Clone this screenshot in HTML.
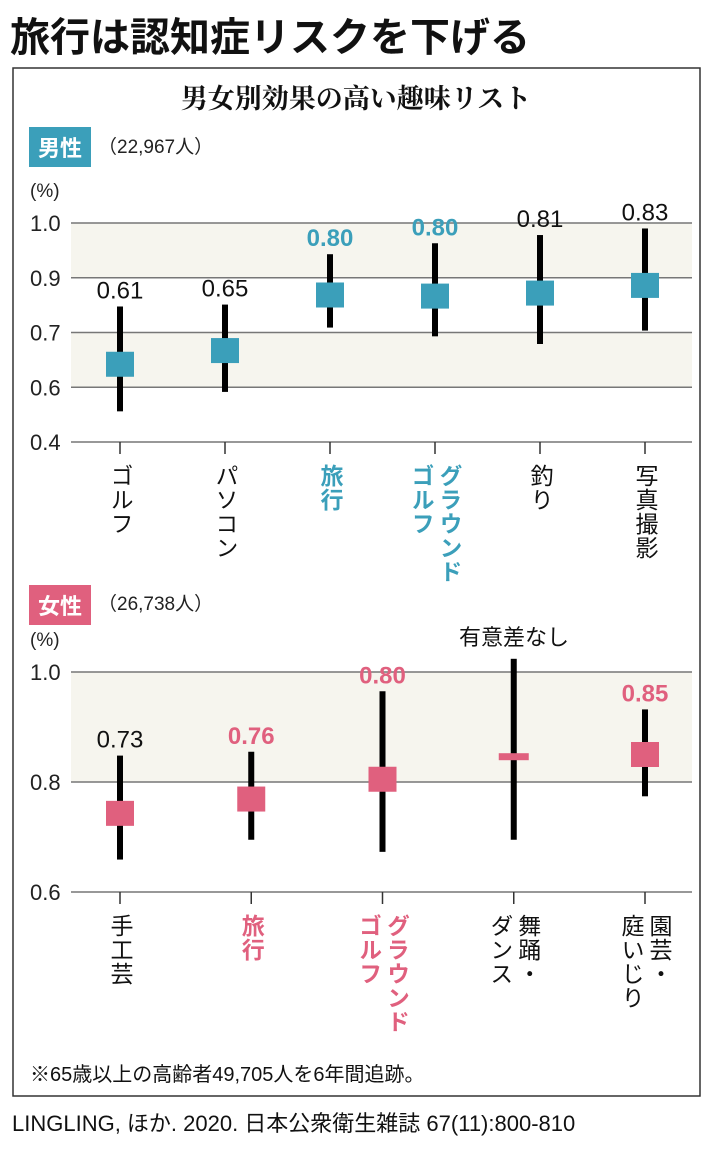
<!DOCTYPE html>
<html><head><meta charset="utf-8"><style>
body{margin:0;background:#fff;}
svg text{font-family:"Liberation Sans","Noto Sans CJK JP",sans-serif;}
</style></head><body>
<svg width="710" height="1147" viewBox="0 0 710 1147" xmlns="http://www.w3.org/2000/svg">
<text x="10" y="51" font-size="40" font-weight="bold" fill="#111">旅行は認知症リスクを下げる</text>
<rect x="13" y="68" width="687" height="1028" fill="none" stroke="#333" stroke-width="1.5"/>
<text x="356" y="108" font-size="27" font-weight="bold" text-anchor="middle" fill="#111" style="font-family:'Liberation Serif','Noto Serif CJK SC',serif">男女別効果の高い趣味リスト</text>
<rect x="29" y="127" width="62" height="40" fill="#3b9fba"/>
<text x="60" y="156" font-size="22" font-weight="bold" fill="#fff" text-anchor="middle">男性</text>
<text x="98" y="153" font-size="19" fill="#222">（22,967人）</text>
<text x="30" y="197" font-size="19" fill="#222">(%)</text>
<g id="top"></g>
<rect x="29" y="585" width="62" height="40" fill="#e0607e"/>
<text x="60" y="614" font-size="22" font-weight="bold" fill="#fff" text-anchor="middle">女性</text>
<text x="98" y="610" font-size="19" fill="#222">（26,738人）</text>
<text x="30" y="646" font-size="19" fill="#222">(%)</text>
<text x="514" y="645" font-size="22" fill="#111" text-anchor="middle">有意差なし</text>
<g id="bot"></g>
<text x="30" y="1081" font-size="20" fill="#111">※65歳以上の高齢者49,705人を6年間追跡。</text>
<text x="12" y="1131" font-size="22" fill="#111">LINGLING, ほか. 2020. 日本公衆衛生雑誌 67(11):800-810</text>
</svg>
<script>
const NS="http://www.w3.org/2000/svg";
// Male chart data
const mCats=[["ゴルフ"],["パソコン"],["旅行"],["グラウンド","ゴルフ"],["釣り"],["写真撮影"]];
const mPoint=[0.642,0.667,0.837,0.833,0.844,0.872];
const mLow=[0.512,0.583,0.718,0.693,0.679,0.707];
const mHigh=[0.795,0.802,0.943,0.963,0.978,0.99];
const mLabels=["0.61","0.65","0.80","0.80","0.81","0.83"];
const mHighlight=[false,false,true,true,false,false];
const mTicks=[1.0,0.9,0.7,0.6,0.4];
// Female chart data
const fCats=[["手工芸"],["旅行"],["グラウンド","ゴルフ"],["舞踊・","ダンス"],["園芸・","庭いじり"]];
const fPoint=[0.743,0.769,0.805,0.846,0.85];
const fLow=[0.659,0.695,0.673,0.695,0.774];
const fHigh=[0.848,0.855,0.965,1.024,0.932];
const fLabels=["0.73","0.76","0.80","","0.85"];
const fValueHighlight=[false,true,true,false,true];
const fCatHighlight=[false,true,true,false,false];
const fNoSig=[false,false,false,true,false];
const fTicks=[1.0,0.8,0.6];

function mk(tag,attrs,parent){const e=document.createElementNS(NS,tag);for(const k in attrs)e.setAttribute(k,attrs[k]);parent.appendChild(e);return e;}

const topY0=223, topY1=442;
function yTop(v){
  const n=mTicks.length, step=(topY1-topY0)/(n-1);
  for(let i=0;i<n-1;i++){const a=mTicks[i],b=mTicks[i+1];
    if(v<=a&&v>=b) return topY0+step*(i+(a-v)/(a-b));}
  if(v>mTicks[0]) return topY0-(v-mTicks[0])/(mTicks[0]-mTicks[1])*step;
  return topY1;
}
function xTop(i){return 120+i*105;}
function yBot(v){return 672+(1.0-v)/0.4*(892-672);}
function xBot(i){return 120+i*131.25;}

function draw(g,cats,pt,lo,hi,labels,hlVal,hlCat,ticks,yf,xf,color,shades,noSig,bottomY){
  shades.forEach(s=>{const r=mk('rect',{x:71,y:yf(s[0]),width:621,height:yf(s[1])-yf(s[0]),fill:'#f6f5ee'},g);
    
    });
  ticks.forEach(t=>{const l=mk('line',{x1:71,x2:692,y1:yf(t),y2:yf(t),stroke:'#777','stroke-width':1.5},g);
    
    
    const tx=mk('text',{x:30,y:yf(t)+8,'font-size':22,fill:'#222'},g);tx.textContent=t.toFixed(1);
    
    });
  cats.forEach((c,i)=>{const x=xf(i);
    const tk=mk('line',{x1:x,x2:x,y1:bottomY,y2:bottomY+12,stroke:'#333','stroke-width':1.5},g);
    
    
    const col=hlCat[i]?color:'#111';
    c.forEach((line,j)=>{
      const cols=c.length; const cx=x+(j-(cols-1)/2)*-28;
      const t=mk('text',{x:cx,y:bottomY+22,'font-size':23,fill:col,'font-weight':hlCat[i]?'bold':'normal',style:'writing-mode:vertical-rl;letter-spacing:1px'},g);
      t.textContent=line;
      
      });
    const b=mk('rect',{x:x-3,y:yf(hi[i]),width:6,height:yf(lo[i])-yf(hi[i]),fill:'#000'},g);
    
    
    const yp=yf(pt[i]);
    let m;
    if(noSig&&noSig[i]) m=mk('rect',{x:x-15,y:yp-3.5,width:30,height:7,fill:color},g);
    else m=mk('rect',{x:x-14,y:yp-12.5,width:28,height:25,fill:color},g);
    
    
    if(labels[i]){const vc=hlVal[i]?color:'#111';
      const lt=mk('text',{x:x,y:yf(hi[i])-8,'font-size':24,'text-anchor':'middle',fill:vc,'font-weight':hlVal[i]?'bold':'normal'},g);
      lt.textContent=labels[i];
      
      }
  });
}
draw(document.getElementById('top'),mCats,mPoint,mLow,mHigh,mLabels,mHighlight,mHighlight,mTicks,yTop,xTop,'#3b9fba',[[1.0,0.9],[0.7,0.6]],null,442);
draw(document.getElementById('bot'),fCats,fPoint,fLow,fHigh,fLabels,fValueHighlight,fCatHighlight,fTicks,yBot,xBot,'#e0607e',[[1.0,0.8]],fNoSig,892);
</script>
</body></html>
